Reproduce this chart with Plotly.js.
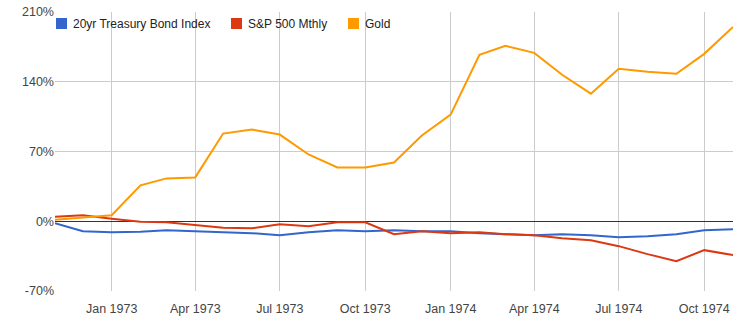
<!DOCTYPE html>
<html>
<head>
<meta charset="utf-8">
<script src="https://cdn.plot.ly/plotly-3.0.1.min.js"></script>
<style>html,body{margin:0;padding:0;background:#fff;}#chart{width:737px;height:326px;}</style>
</head>
<body>
<div id="chart"></div>
<script>
var months = ["1972-11-01","1972-12-01","1973-01-01","1973-02-01","1973-03-01","1973-04-01","1973-05-01","1973-06-01","1973-07-01","1973-08-01","1973-09-01","1973-10-01","1973-11-01","1973-12-01","1974-01-01","1974-02-01","1974-03-01","1974-04-01","1974-05-01","1974-06-01","1974-07-01","1974-08-01","1974-09-01","1974-10-01","1974-11-01"];
var treasury = [-2,-10,-11,-10.5,-9,-10,-10.5,-12,-14,-11,-9,-10,-9,-10,-10,-12,-13,-14,-13,-14,-16,-15,-13,-9,-8];
var sp500 = [4.5,6,2.5,-0.5,-1,-4,-6.5,-7,-3,-5,-1,-1,-13,-10,-12,-11,-13,-14,-17,-19,-25,-33,-40,-29,-34];
var gold = [1.5,3.5,6,36,43,44,88,92,87,67,54,54,59,86,107,167,176,169,147,128,153,150,148,168,195];
var seriesNames = ["20yr Treasury Bond Index","S&P 500 Mthly","Gold"];
var seriesColors = ["#3366cc","#dc3912","#ff9900"];
var tickVals = ["1973-01-01","1973-04-01","1973-07-01","1973-10-01","1974-01-01","1974-04-01","1974-07-01","1974-10-01"];
var tickText = ["Jan 1973","Apr 1973","Jul 1973","Oct 1973","Jan 1974","Apr 1974","Jul 1974","Oct 1974"];
var yTicks = [-70,0,70,140,210];

var W = 737, H = 326, ML = 55, MR = 4, MT = 12, MB = 35;
var PW = W - ML - MR, PH = H - MT - MB;
function px(x) { return (x - ML) / PW; }
function py(y) { return (H - MB - y) / PH; }

var seriesData = [treasury, sp500, gold];
var traces = [];
for (var i = 0; i < 3; i++) {
  traces.push({x: months, y: seriesData[i], type: "scatter", mode: "lines", name: seriesNames[i],
    line: {color: seriesColors[i], width: 2}, showlegend: false});
}

// custom Google-style legend (square swatches + text)
var legendX = [56, 231, 348];
var shapes = [], annotations = [];
for (var k = 0; k < 3; k++) {
  shapes.push({type: "rect", xref: "paper", yref: "paper",
    x0: px(legendX[k]), x1: px(legendX[k] + 11), y0: py(29), y1: py(18),
    fillcolor: seriesColors[k], line: {width: 0}, layer: "above"});
  annotations.push({xref: "paper", yref: "paper", x: px(legendX[k] + 15), y: py(23.5),
    xanchor: "left", yanchor: "middle", showarrow: false, text: seriesNames[k],
    font: {family: "Arial, 'Liberation Sans', sans-serif", size: 12, color: "#222"}});
}

var layout = {
  width: W, height: H,
  margin: {l: ML, r: MR, t: MT, b: MB},
  paper_bgcolor: "#fff", plot_bgcolor: "#fff",
  font: {family: "Arial, 'Liberation Sans', sans-serif", size: 12.5, color: "#444"},
  showlegend: false,
  shapes: shapes, annotations: annotations,
  xaxis: {type: "date", range: ["1972-11-01","1974-11-01"], tickvals: tickVals, ticktext: tickText,
    showgrid: true, gridcolor: "#cccccc", gridwidth: 1, showline: false, zeroline: false,
    ticks: "outside", ticklen: 6, tickcolor: "rgba(0,0,0,0)", tickfont: {size: 12.5, color: "#444"}},
  yaxis: {range: [-70, 210], tickvals: yTicks, ticktext: yTicks.map(function(v){return v + "%";}),
    showgrid: true, gridcolor: "#cccccc", gridwidth: 1, zeroline: true, zerolinecolor: "#333333", zerolinewidth: 1,
    showline: false, ticks: "", tickfont: {size: 12.5, color: "#444"}}
};
Plotly.newPlot("chart", traces, layout, {displayModeBar: false, staticPlot: true});
</script>
</body>
</html>
